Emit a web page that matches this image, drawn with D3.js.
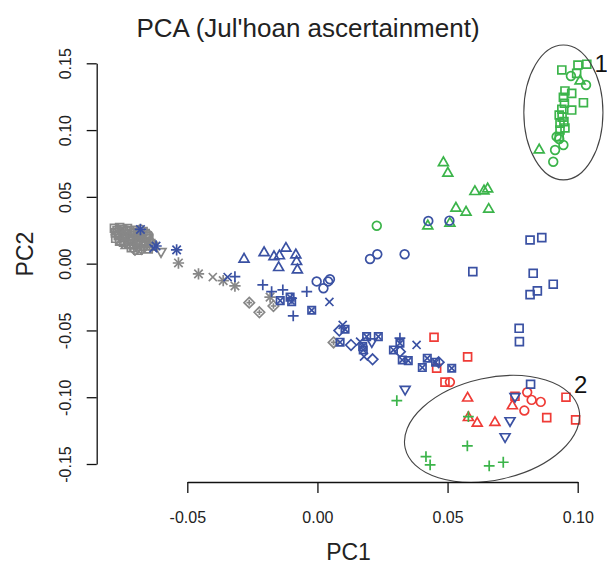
<!DOCTYPE html>
<html>
<head>
<meta charset="utf-8">
<script src="https://cdn.jsdelivr.net/npm/d3@7"></script>
<style>
  body { margin: 0; background: #fff; }
  svg { display: block; font-family: "Liberation Sans", Arial, sans-serif; }
</style>
</head>
<body>
<div id="chart"></div>
<script>
// tick values
var pc1Ticks = [-0.05, 0.00, 0.05, 0.10];
var pc2Ticks = [-0.15, -0.10, -0.05, 0.00, 0.05, 0.10, 0.15];

// points as [PC1, PC2]
var graySquares = [[-0.0780,0.0265],[-0.0770,0.0248],[-0.0776,0.0230],[-0.0760,0.0270],[-0.0752,0.0255],
  [-0.0745,0.0238],[-0.0738,0.0222],[-0.0730,0.0262],[-0.0722,0.0245],[-0.0715,0.0228],[-0.0708,0.0210],
  [-0.0700,0.0250],[-0.0692,0.0235],[-0.0685,0.0218],[-0.0678,0.0200],[-0.0670,0.0240],[-0.0662,0.0225],
  [-0.0655,0.0205],[-0.0648,0.0190],[-0.0765,0.0210],[-0.0740,0.0195],[-0.0712,0.0185],[-0.0690,0.0175],
  [-0.0775,0.0190],[-0.0760,0.0175],[-0.0745,0.0160],[-0.0725,0.0150],[-0.0705,0.0140],[-0.0680,0.0150],
  [-0.0660,0.0165],[-0.0640,0.0150],[-0.0630,0.0130],[-0.0715,0.0120],[-0.0690,0.0100],[-0.0650,0.0110]];
var grayCircles = [[-0.0760,0.0225],[-0.0735,0.0250],[-0.0705,0.0230],[-0.0680,0.0255],[-0.0650,0.0215],
  [-0.0720,0.0170],[-0.0700,0.0160],[-0.0670,0.0130]];
var grayTriangles = [[-0.0772,0.0240],[-0.0748,0.0215],[-0.0725,0.0200],[-0.0695,0.0220],[-0.0668,0.0190],
  [-0.0640,0.0170],[-0.0755,0.0160],[-0.0735,0.0135],[-0.0650,0.0125]];
var grayPlus = [[-0.0755,0.0190],[-0.0728,0.0175],[-0.0700,0.0195]];
var grayTriDown = [[-0.0660,0.0140],[-0.0690,0.0120],[-0.0601,0.0091]];
var grayDiamonds = [[-0.0701,0.0103],[-0.0675,0.0110]];
var grayStars = [[-0.0534,0.0005],[-0.0457,-0.0077],[-0.0362,-0.0127],[-0.0317,-0.0167],[-0.0182,-0.0251]];
var grayCrosses = [[-0.0402,-0.0100]];
var grayDiamondPlus = [[-0.0262,-0.0292],[-0.0223,-0.0364],[-0.0169,-0.0317],[0.0062,-0.0590]];

var redSquares = [[0.0448,-0.0551],[0.0577,-0.0698],[0.0458,-0.0783],[0.0490,-0.0887],[0.0759,-0.0993],
  [0.0955,-0.1000],[0.0881,-0.1153],[0.0992,-0.1170]];
var redCircles = [[0.0509,-0.0887],[0.0806,-0.0963],[0.0823,-0.1020],[0.0858,-0.1035],[0.0795,-0.1100]];
var redTriangles = [[0.0577,-0.1007],[0.0749,-0.1065],[0.0580,-0.1153],[0.0614,-0.1195],[0.0682,-0.1190]];

var greenSquares = [[0.0939,0.1450],[0.1001,0.1487],[0.1035,0.1493],[0.0996,0.1425],[0.0951,0.1293],
  [0.0977,0.1275],[0.0945,0.1246],[0.0949,0.1201],[0.1022,0.1205],[0.0939,0.1156],[0.0977,0.1150],
  [0.0929,0.1113],[0.0947,0.1063],[0.0932,0.1051],[0.0932,0.1001],[0.0929,0.0951],[0.0940,0.1097],[0.0951,0.1016]];
var greenCircles = [[0.0974,0.1405],[0.1032,0.1338],[0.0919,0.0951],[0.0929,0.0933],[0.0945,0.0888],
  [0.0913,0.0851],[0.0906,0.0763],[0.0228,0.0284]];
var greenTriangles = [[0.1009,0.1368],[0.0852,0.0851],[0.0484,0.0756],[0.0501,0.0677],[0.0605,0.0539],
  [0.0640,0.0544],[0.0654,0.0559],[0.0532,0.0415],[0.0571,0.0385],[0.0658,0.0407],[0.0424,0.0282],[0.0509,0.0302]];
var greenPlus = [[0.0305,-0.1025],[0.0580,-0.1145],[0.0576,-0.1365],[0.0417,-0.1445],[0.0433,-0.1507],
  [0.0660,-0.1514],[0.0714,-0.1487]];

var blueSquares = [[0.0597,-0.0060],[0.0817,0.0177],[0.0862,0.0195],[0.0829,-0.0072],[0.0906,-0.0154],
  [0.0845,-0.0204],[0.0817,-0.0232],[0.0775,-0.0484],[0.0776,-0.0584],[0.0819,-0.0903]];
var blueCircles = [[0.0426,0.0320],[0.0507,0.0322],[0.0202,0.0035],[0.0230,0.0070],[0.0335,0.0070],
  [-0.0003,-0.0133],[0.0023,-0.0184],[0.0041,-0.0133],[0.0048,-0.0117]];
var blueTriangles = [[-0.0282,0.0033],[-0.0205,0.0082],[-0.0167,0.0052],[-0.0146,0.0058],[-0.0121,0.0115],
  [-0.0083,0.0065],[-0.0080,0.0015],[-0.0149,-0.0030],[-0.0077,-0.0047]];
var bluePlus = [[-0.0317,-0.0097],[-0.0210,-0.0159],[-0.0176,-0.0210],[-0.0133,-0.0197],[-0.0041,-0.0210],
  [-0.0093,-0.0391],[-0.0099,-0.0259],[0.0317,-0.0558]];
var blueCrosses = [[-0.0345,-0.0100],[0.0046,-0.0287],[0.0097,-0.0459],[0.0164,-0.0584],[0.0179,-0.0696],
  [0.0381,-0.0609],[-0.0630,0.0115]];
var blueBoxX = [[-0.0143,-0.0277],[-0.0105,-0.0251],[-0.0099,-0.0284],[-0.0022,-0.0349],[0.0106,-0.0491],
  [0.0087,-0.0588],[0.0189,-0.0546],[0.0234,-0.0546],[0.0174,-0.0621],[0.0176,-0.0646],[0.0317,-0.0596],
  [0.0292,-0.0646],[0.0326,-0.0721],[0.0349,-0.0726],[0.0403,-0.0778],[0.0422,-0.0708],[0.0454,-0.0738],
  [0.0516,-0.0783]];
var blueDiamonds = [[0.0084,-0.0501],[0.0129,-0.0609],[0.0212,-0.0716],[0.0317,-0.0659],[0.0466,-0.0738]];
var blueTriDown = [[0.0209,-0.0584],[0.0337,-0.0940],[0.0740,-0.1175],[0.0721,-0.1295],[0.0759,-0.0994]];
var blueStars = [[-0.0680,0.0256],[-0.0541,0.0103],[-0.0620,0.0132]];

// ellipses (centre, half axes in data units, tilt in degrees) and their labels
var ellipseCentres = [[0.0945, 0.1132], [0.0671, -0.1237]];
var ellipseRadii = [[0.0152, 0.0505], [0.0342, 0.0382]];
var ellipseTilt = [0, -12.5];
var ellipseLabels = ["1", "2"];
var ellipseLabelPos = [[0.1090, 0.1435], [0.1011, -0.0968]];

var GRAY = "#878787", BLUE = "#3a51a3", RED = "#ef3b36", GREEN = "#3bb44a";

var groups = [
  [graySquares, GRAY, "square"], [grayCircles, GRAY, "circle"], [grayTriangles, GRAY, "triangle"],
  [grayPlus, GRAY, "plus"], [grayTriDown, GRAY, "tridown"], [grayDiamonds, GRAY, "diamond"],
  [grayStars, GRAY, "star"], [grayCrosses, GRAY, "cross"], [grayDiamondPlus, GRAY, "diamondplus"],
  [redSquares, RED, "square"], [redCircles, RED, "circle"], [redTriangles, RED, "triangle"],
  [greenSquares, GREEN, "square"], [greenCircles, GREEN, "circle"], [greenTriangles, GREEN, "triangle"],
  [greenPlus, GREEN, "plus"],
  [blueSquares, BLUE, "square"], [blueCircles, BLUE, "circle"], [blueTriangles, BLUE, "triangle"],
  [bluePlus, BLUE, "plus"], [blueCrosses, BLUE, "cross"], [blueBoxX, BLUE, "boxx"],
  [blueDiamonds, BLUE, "diamond"], [blueTriDown, BLUE, "tridown"], [blueStars, BLUE, "star"]
];

var svgWidth = 607, svgHeight = 566;

var svg = d3.select("#chart").append("svg")
  .attr("width", svgWidth)
  .attr("height", svgHeight);

var x = d3.scaleLinear().domain([-0.05, 0.10]).range([187.3, 577.7]);
var y = d3.scaleLinear().domain([-0.15, 0.15]).range([464, 63.3]);

// symbol pieces
var sym = {
  square: [[d3.symbolSquare2, 80]],
  circle: [[d3.symbolCircle, 60]],
  triangle: [[d3.symbolTriangle2, 70]],
  tridown: [[d3.symbolTriangle2, 70, 180]],
  plus: [[d3.symbolPlus, 40]],
  cross: [[d3.symbolTimes, 44]],
  diamond: [[d3.symbolDiamond2, 70]],
  star: [[d3.symbolPlus, 44], [d3.symbolTimes, 48]],
  boxx: [[d3.symbolSquare2, 70], [d3.symbolTimes, 24]],
  diamondplus: [[d3.symbolDiamond2, 70], [d3.symbolPlus, 12]]
};

var points = svg.append("g");
groups.forEach(function(grp) {
  var pts = grp[0], color = grp[1], parts = sym[grp[2]];
  parts.forEach(function(p) {
    points.selectAll(null)
      .data(pts)
      .enter()
      .append("path")
      .attr("d", d3.symbol().type(p[0]).size(p[1]))
      .attr("transform", d => `translate(${x(d[0])},${y(d[1])})` + (p[2] ? ` rotate(${p[2]})` : ""))
      .attr("fill", "none")
      .attr("stroke", color)
      .attr("stroke-width", 1.7);
  });
});

// ellipses
ellipseCentres.forEach(function(c, i) {
  var rx = x(c[0] + ellipseRadii[i][0]) - x(c[0]);
  var ry = y(c[1]) - y(c[1] + ellipseRadii[i][1]);
  svg.append("ellipse")
    .attr("transform", `translate(${x(c[0])},${y(c[1])}) rotate(${ellipseTilt[i]})`)
    .attr("rx", rx)
    .attr("ry", ry)
    .attr("fill", "none")
    .attr("stroke", "#444")
    .attr("stroke-width", 1.1);
  svg.append("text")
    .attr("x", x(ellipseLabelPos[i][0]))
    .attr("y", y(ellipseLabelPos[i][1]))
    .attr("text-anchor", "middle")
    .attr("font-size", "24px")
    .attr("fill", "#111")
    .text(ellipseLabels[i]);
});

// axes
var xAxis = svg.append("g")
  .attr("transform", "translate(0,482)")
  .call(d3.axisBottom(x).tickValues(pc1Ticks).tickFormat(d => d.toFixed(2))
    .tickSize(11).tickSizeOuter(0).tickPadding(19));

var yAxis = svg.append("g")
  .attr("transform", "translate(96.7,0)")
  .call(d3.axisLeft(y).tickValues(pc2Ticks).tickFormat(d => d.toFixed(2))
    .tickSize(10).tickSizeOuter(0));

yAxis.selectAll(".tick text")
  .attr("x", null).attr("dy", null)
  .attr("text-anchor", "middle")
  .attr("transform", "translate(-26,0) rotate(-90)");

[xAxis, yAxis].forEach(function(a) {
  a.attr("font-family", null).attr("font-size", null);
  a.selectAll("path, line").attr("stroke", "#111").attr("stroke-width", 1.3);
  a.selectAll("text").attr("font-size", "16px").attr("fill", "#222");
});

// title and axis labels
svg.append("text")
  .attr("x", 308).attr("y", 37)
  .attr("text-anchor", "middle")
  .attr("font-size", "26px")
  .attr("fill", "#222")
  .text("PCA (Jul'hoan ascertainment)");

svg.append("text")
  .attr("x", 348.5).attr("y", 560)
  .attr("text-anchor", "middle")
  .attr("font-size", "23px")
  .attr("fill", "#222")
  .text("PC1");

svg.append("text")
  .attr("transform", "translate(33,254) rotate(-90)")
  .attr("text-anchor", "middle")
  .attr("font-size", "23px")
  .attr("fill", "#222")
  .text("PC2");
</script>
</body>
</html>
